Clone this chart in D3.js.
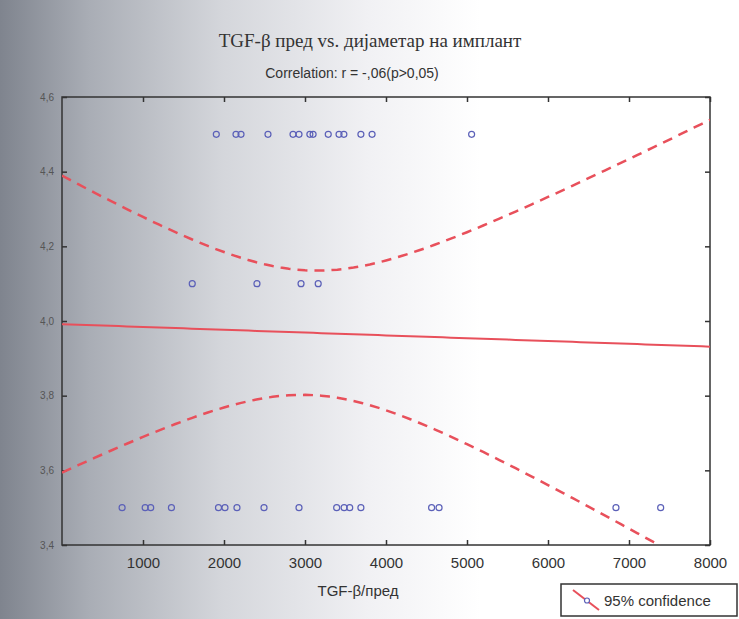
<!DOCTYPE html>
<html>
<head>
<meta charset="utf-8">
<script src="https://cdn.jsdelivr.net/npm/d3@7"></script>
<style>
  html, body { margin: 0; padding: 0; background: #fff; }
  svg { display: block; }
</style>
</head>
<body>
<svg id="chart" width="739" height="619"></svg>
<script>
// ---- data ----
const titleText = "TGF-β пред vs. дијаметар на имплант";
const subtitleText = "Correlation: r = -,06(p>0,05)";
const xLabel = "TGF-β/пред";
const legendLabel = "95% confidence";

const xTicks = [1000, 2000, 3000, 4000, 5000, 6000, 7000, 8000];
const yTicks = [3.4, 3.6, 3.8, 4.0, 4.2, 4.4, 4.6];

// TGF-β values (x) and implant diameter (y)
const xTop = [1905, 2148, 2210, 2543, 2852, 2926, 3060, 3100, 3287, 3420, 3480, 3690, 3828, 5057];
const yTop = [4.5, 4.5, 4.5, 4.5, 4.5, 4.5, 4.5, 4.5, 4.5, 4.5, 4.5, 4.5, 4.5, 4.5];
const xMid = [1608, 2407, 2951, 3163];
const yMid = [4.1, 4.1, 4.1, 4.1];
const xLow = [742, 1027, 1095, 1351, 1932, 2012, 2160, 2494, 2926, 3391, 3483, 3552, 3690, 4563, 4655, 6839, 7391];
const yLow = [3.5, 3.5, 3.5, 3.5, 3.5, 3.5, 3.5, 3.5, 3.5, 3.5, 3.5, 3.5, 3.5, 3.5, 3.5, 3.5, 3.5];

const xs = xTop.concat(xMid, xLow);
const ys = yTop.concat(yMid, yLow);
const points = xs.map((x, i) => ({x, y: ys[i]}));

// ---- layout ----
const svg = d3.select("#chart");
const W = 739, H = 619;
const m = {left: 62, right: 710, top: 97, bottom: 545};

// page-shadow background like the photo
const defs = svg.append("defs");
const grad = defs.append("linearGradient").attr("id", "bg").attr("x1", "0").attr("x2", "1").attr("y1", "0").attr("y2", "0");
grad.append("stop").attr("offset", "0").attr("stop-color", "#7f848e");
grad.append("stop").attr("offset", "0.12").attr("stop-color", "#a9adb5");
grad.append("stop").attr("offset", "0.3").attr("stop-color", "#d4d6db");
grad.append("stop").attr("offset", "0.5").attr("stop-color", "#f1f1f4");
grad.append("stop").attr("offset", "0.65").attr("stop-color", "#ffffff");
svg.append("rect").attr("width", W).attr("height", H).attr("fill", "url(#bg)");
defs.append("clipPath").attr("id", "clip").append("rect")
  .attr("x", m.left).attr("y", m.top).attr("width", m.right - m.left).attr("height", m.bottom - m.top);

const x = d3.scaleLinear().domain([0, 8000]).range([m.left, m.right]);
const y = d3.scaleLinear().domain([3.4, 4.6]).range([m.bottom, m.top]);

// ---- regression + 95% confidence band computed from the points ----
const n = xs.length;
const xbar = d3.mean(xs), ybar = d3.mean(ys);
const Sxx = d3.sum(xs, v => (v - xbar) ** 2);
const Sxy = d3.sum(xs.map((v, i) => (v - xbar) * (ys[i] - ybar)));
const b = Sxy / Sxx, a = ybar - b * xbar;
const s = Math.sqrt(d3.sum(xs.map((v, i) => (ys[i] - (a + b * v)) ** 2)) / (n - 2));
const tcrit = 2.035;
const grid = d3.range(0, 8001, 100);
const fit = grid.map(g => {
  const yh = a + b * g;
  const se = s * Math.sqrt(1 / n + (g - xbar) ** 2 / Sxx);
  return {x: g, y: yh, lo: yh - tcrit * se, hi: yh + tcrit * se};
});

// ---- plot frame ----
svg.append("rect").attr("x", m.left).attr("y", m.top)
  .attr("width", m.right - m.left).attr("height", m.bottom - m.top)
  .attr("fill", "none").attr("stroke", "#333").attr("stroke-width", 1.5);

const tickLen = 5;
// bottom axis (ticks pointing inward)
const xAxis = d3.axisBottom(x).tickValues(xTicks).tickSize(-tickLen).tickPadding(12).tickFormat(d3.format("d"));
const gx = svg.append("g").attr("transform", `translate(0,${m.bottom})`).call(xAxis);
gx.select(".domain").remove();
gx.selectAll("line").attr("stroke", "#333").attr("stroke-width", 1.5);
gx.selectAll("text").attr("font-family", "Liberation Sans, Arial, sans-serif").attr("font-size", 15).attr("fill", "#333");
// top ticks
const gxt = svg.append("g").attr("transform", `translate(0,${m.top})`)
  .call(d3.axisTop(x).tickValues(xTicks).tickSize(-tickLen).tickFormat(""));
gxt.select(".domain").remove();
gxt.selectAll("line").attr("stroke", "#333").attr("stroke-width", 1.5);

// left axis
const fmtY = v => d3.format(".1f")(v).replace(".", ",");
const gy = svg.append("g").attr("transform", `translate(${m.left},0)`)
  .call(d3.axisLeft(y).tickValues(yTicks).tickSize(-tickLen).tickPadding(8).tickFormat(fmtY));
gy.select(".domain").remove();
gy.selectAll("line").attr("stroke", "#333").attr("stroke-width", 1.5);
gy.selectAll("text").attr("font-family", "Liberation Sans, Arial, sans-serif").attr("font-size", 10).attr("fill", "#555");
// right ticks
const gyr = svg.append("g").attr("transform", `translate(${m.right},0)`)
  .call(d3.axisRight(y).tickValues(yTicks).tickSize(-tickLen).tickFormat(""));
gyr.select(".domain").remove();
gyr.selectAll("line").attr("stroke", "#333").attr("stroke-width", 1.5);

// ---- lines ----
const plot = svg.append("g").attr("clip-path", "url(#clip)");
const red = "#e8505b";
plot.append("path").datum(fit)
  .attr("d", d3.line().x(d => x(d.x)).y(d => y(d.y)))
  .attr("fill", "none").attr("stroke", red).attr("stroke-width", 2);
plot.append("path").datum(fit)
  .attr("d", d3.line().x(d => x(d.x)).y(d => y(d.hi)))
  .attr("fill", "none").attr("stroke", red).attr("stroke-width", 2.5).attr("stroke-dasharray", "10,7");
plot.append("path").datum(fit)
  .attr("d", d3.line().x(d => x(d.x)).y(d => y(d.lo)))
  .attr("fill", "none").attr("stroke", red).attr("stroke-width", 2.5).attr("stroke-dasharray", "10,7");

// ---- points ----
plot.selectAll("circle.pt").data(points).join("circle")
  .attr("class", "pt")
  .attr("cx", d => x(d.x)).attr("cy", d => y(d.y)).attr("r", 3)
  .attr("fill", "none").attr("stroke", "#5b60b8").attr("stroke-width", 1.2);

// ---- titles ----
svg.append("text").attr("x", 370).attr("y", 47).attr("text-anchor", "middle")
  .attr("font-family", "Liberation Serif, Times New Roman, serif").attr("font-size", 19).attr("fill", "#333")
  .text(titleText);
svg.append("text").attr("x", 352).attr("y", 78).attr("text-anchor", "middle")
  .attr("font-family", "Liberation Sans, Arial, sans-serif").attr("font-size", 14).attr("fill", "#333")
  .text(subtitleText);
svg.append("text").attr("x", 358).attr("y", 596).attr("text-anchor", "middle")
  .attr("font-family", "Liberation Sans, Arial, sans-serif").attr("font-size", 15).attr("fill", "#333")
  .text(xLabel);

// ---- legend ----
const lg = svg.append("g");
lg.append("rect").attr("x", 561).attr("y", 584).attr("width", 176).attr("height", 32)
  .attr("fill", "#fff").attr("stroke", "#333").attr("stroke-width", 1.5);
lg.append("line").attr("x1", 573).attr("y1", 590).attr("x2", 599).attr("y2", 610)
  .attr("stroke", red).attr("stroke-width", 2);
lg.append("circle").attr("cx", 587).attr("cy", 600.5).attr("r", 2.5)
  .attr("fill", "#fff").attr("stroke", "#5b60b8").attr("stroke-width", 1.2);
lg.append("text").attr("x", 604).attr("y", 606)
  .attr("font-family", "Liberation Sans, Arial, sans-serif").attr("font-size", 15).attr("fill", "#333")
  .text(legendLabel);
</script>
</body>
</html>
